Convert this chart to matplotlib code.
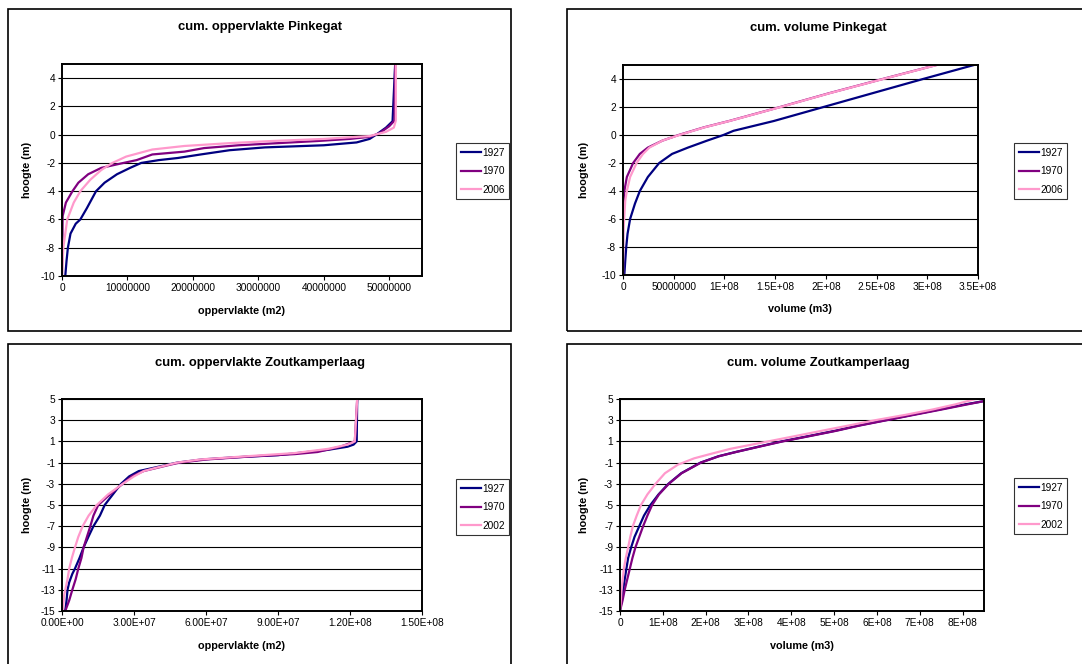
import numpy as np
import matplotlib
matplotlib.use("Agg")
import matplotlib.pyplot as plt
from matplotlib.patches import Rectangle

plt.rcParams['font.family'] = ['Liberation Sans', 'DejaVu Sans']

W, H = 1082, 664

# --- data (x in millions, y = hoogte in m) ---
# cum. oppervlakte Pinkegat
opp_pink_1927_y = [-10, -8.9, -8, -7, -6.3, -6, -5.2, -4.6, -4, -3.4, -2.8, -2.35, -2, -1.8, -1.65, -1.4, -1.1, -0.9, -0.75, -0.55, -0.3, 0, 0.5, 0.95, 5]
opp_pink_1927_x = [0.5, 0.7, 0.9, 1.3, 2.1, 2.8, 3.8, 4.5, 5.2, 6.5, 8.4, 10.4, 12.1, 14.8, 17.7, 21.2, 25.6, 31.0, 40.0, 45.0, 47.0, 48.0, 49.5, 50.5, 50.9]
opp_pink_1970_y = [-10, -5.75, -4.8, -4, -3.4, -2.8, -2.35, -2.05, -1.8, -1.4, -1.2, -0.95, -0.75, -0.6, -0.45, -0.3, -0.15, 0.1, 0.6, 1.0, 5]
opp_pink_1970_x = [0.0, 0.1, 0.6, 1.6, 2.5, 4.0, 6.0, 8.9, 11.4, 13.8, 18.7, 21.7, 27.0, 33.0, 39.0, 44.0, 47.0, 48.5, 50.0, 50.8, 50.9]
opp_pink_2006_y = [-10, -8, -6, -4.8, -4, -3.2, -2.5, -2, -1.55, -1.05, -0.8, -0.6, -0.45, -0.3, -0.1, 0.2, 0.5, 1, 5]
opp_pink_2006_x = [0.0, 0.2, 0.8, 1.8, 2.8, 4.3, 6.0, 7.7, 9.8, 13.8, 18.7, 25.6, 32.0, 40.0, 47.0, 49.5, 50.7, 51.0, 51.0]

# cum. volume Pinkegat
vol_pink_1927_y = [-10, -9, -8, -7.05, -6, -4.9, -4, -3, -2, -1.35, -0.9, -0.4, 0, 0.3, 1, 2, 3, 4, 5]
vol_pink_1927_x = [1.3, 2.2, 3.2, 4.5, 7.0, 11.8, 16.6, 24.5, 35.7, 48.4, 64, 83, 99, 109, 148.7, 197.7, 246.7, 295.8, 346]
vol_pink_1970_y = [-10, -5.65, -4, -3, -2, -1.35, -0.9, -0.4, 0, 0.55, 1, 2, 3, 4, 5]
vol_pink_1970_x = [0, 0.1, 1.3, 3.8, 10, 16.6, 24.5, 38.9, 54.8, 80, 104.6, 155, 204, 256, 309]
vol_pink_2006_y = [-10, -7, -4.7, -4, -3, -2, -1.35, -0.9, -0.4, 0, 0.55, 1, 2, 3, 4, 5]
vol_pink_2006_x = [0, 0.3, 2.2, 3.8, 7.0, 13.4, 19.7, 26, 38.9, 55.5, 80.5, 105, 155.5, 204.5, 256.5, 309.5]

# cum. oppervlakte Zoutkamperlaag
opp_zout_1927_y = [-15, -14, -13, -12.3, -11.5, -11, -10, -9, -8, -7, -6, -5, -4, -3, -2.3, -1.8, -1.5, -1.2, -1, -0.7, -0.5, -0.3, 0, 0.2, 0.5, 0.7, 1, 5]
opp_zout_1927_x = [1.35, 1.9, 2.3, 3.0, 4.3, 5.4, 7.3, 9.0, 11.0, 13.1, 15.8, 17.8, 21.2, 24.6, 28.0, 32.0, 38.0, 44.0, 48.0, 58.5, 72.0, 90.0, 102.0, 110.7, 119.0, 121.5, 122.8, 123.0]
opp_zout_1970_y = [-15, -14, -13, -12, -11, -10, -9, -8, -7, -6, -5, -4.3, -3.5, -3, -2.3, -1.8, -1.5, -1.2, -1, -0.7, -0.4, -0.2, 0, 0.5, 1, 5]
opp_zout_1970_x = [1.35, 3.0, 4.3, 5.7, 6.8, 8.1, 9.0, 10.4, 11.8, 13.1, 15.1, 18.5, 22.6, 25.3, 29.0, 34.0, 39.5, 45.0, 49.0, 60.5, 80.0, 97.0, 106.5, 116.0, 122.0, 123.0]
opp_zout_2002_y = [-15, -13.5, -12, -11, -10, -9, -8, -7, -6, -5, -4, -3, -2.3, -1.8, -1.5, -1, -0.7, -0.4, -0.1, 0.3, 0.7, 1, 5]
opp_zout_2002_x = [0.3, 0.9, 2.3, 3.0, 4.1, 5.4, 6.8, 8.6, 11.1, 14.5, 19.2, 25.3, 30.0, 34.0, 39.0, 48.0, 57.7, 77.0, 97.0, 111.0, 119.0, 122.0, 123.0]

# cum. volume Zoutkamperlaag
vol_zout_1927_y = [-15, -14, -13, -12, -11, -10, -9, -8, -7, -6, -5, -4, -3, -2, -1, -0.4, 0, 0.5, 1, 1.5, 2, 2.5, 3, 3.5, 4, 4.5, 4.8]
vol_zout_1927_x = [0, 3.8, 7.5, 11, 15, 19, 26, 34, 45, 56, 71, 90, 113, 143, 188, 230, 270, 323, 377, 440, 502, 557, 620, 682, 745, 807, 850]
vol_zout_1970_y = [-15, -14, -13, -12, -11, -10, -9, -8, -7, -6, -5, -4, -3, -2, -1, -0.4, 0, 0.5, 1, 1.5, 2, 2.5, 3, 3.5, 4, 4.5, 4.8]
vol_zout_1970_x = [0, 6, 11, 17, 23, 29, 36, 45, 54, 64, 75, 91, 114, 144, 189, 231, 271, 325, 380, 443, 505, 560, 623, 686, 750, 812, 850]
vol_zout_2002_y = [-15, -13, -11, -10, -9, -8, -7, -6, -5, -4, -3, -2, -1.2, -0.6, -0.2, 0.3, 1, 1.5, 2, 2.5, 3, 3.5, 4, 4.5, 5]
vol_zout_2002_x = [0, 3.8, 9, 13.5, 19, 24, 30, 39, 49, 64, 83, 105, 135, 173, 210, 258, 346, 409, 471, 534, 596, 666, 729, 784, 830]

colors = {"1927": "#000080", "1970": "#800080", "2006": "#ff99cc", "2002": "#ff99cc"}


def fx(px):
    return px / W


def fy(py):
    return 1 - py / H


fig = plt.figure(figsize=(W / 100, H / 100), dpi=100)

# outer chart boxes
for (l, t, r, b) in [(8, 9, 511, 331), (567, 9, 1090, 331), (8, 344, 511, 672), (567, 344, 1090, 672)]:
    fig.patches.append(Rectangle((fx(l), fy(b)), fx(r - l), (b - t) / H, transform=fig.transFigure,
                                 fill=False, edgecolor="black", linewidth=1.2, clip_on=False))


def panel(box, title, title_xy, xlabel, xlabel_xy, ylabel_xy, series, xlim, xticks, xticklabels,
          ylim, yticks, legend_xy):
    l, t, r, b = box
    ax = fig.add_axes([fx(l), fy(b), fx(r - l), (b - t) / H])
    for name, xs, ys in series:
        ax.plot(np.array(xs) * 1e6, ys, color=colors[name], linewidth=1.6, label=name)
    ax.set_xlim(*xlim)
    ax.set_ylim(*ylim)
    ax.set_xticks(xticks)
    ax.set_xticklabels(xticklabels)
    ax.set_yticks(yticks)
    ax.set_yticklabels([str(v) for v in yticks])
    ax.grid(axis="y", color="black", linewidth=0.8)
    ax.set_axisbelow(True)
    ax.tick_params(labelsize=7.3, length=3, width=0.8, pad=2)
    for s in ax.spines.values():
        s.set_linewidth(1.4)
    fig.text(fx(title_xy[0]), fy(title_xy[1]), title, ha="center", va="center", fontsize=9.4, fontweight="bold")
    fig.text(fx(xlabel_xy[0]), fy(xlabel_xy[1]), xlabel, ha="center", va="center", fontsize=7.8, fontweight="bold")
    fig.text(fx(ylabel_xy[0]), fy(ylabel_xy[1]), "hoogte (m)", ha="center", va="center", fontsize=7.8,
             fontweight="bold", rotation=90)
    leg = ax.legend(loc="upper left", bbox_to_anchor=(fx(legend_xy[0]), fy(legend_xy[1])),
                    bbox_transform=fig.transFigure, fontsize=7.3, frameon=True, fancybox=False,
                    handlelength=2.0, handletextpad=0.15, borderpad=0.45, labelspacing=0.85,
                    borderaxespad=0)
    leg.get_frame().set_edgecolor("black")
    leg.get_frame().set_linewidth(0.8)
    return ax


panel((62, 64, 422, 276), "cum. oppervlakte Pinkegat", (260, 27), "oppervlakte (m2)", (242, 311), (27, 170),
      [("1927", opp_pink_1927_x, opp_pink_1927_y), ("1970", opp_pink_1970_x, opp_pink_1970_y),
       ("2006", opp_pink_2006_x, opp_pink_2006_y)],
      (0, 5.5e7), [0, 1e7, 2e7, 3e7, 4e7, 5e7],
      ["0", "10000000", "20000000", "30000000", "40000000", "50000000"],
      (-10, 5), list(range(-10, 5, 2)), (456, 143))

panel((623, 65, 978, 275), "cum. volume Pinkegat", (818, 28), "volume (m3)", (800, 309), (584, 170),
      [("1927", vol_pink_1927_x, vol_pink_1927_y), ("1970", vol_pink_1970_x, vol_pink_1970_y),
       ("2006", vol_pink_2006_x, vol_pink_2006_y)],
      (0, 3.5e8), [0, 5e7, 1e8, 1.5e8, 2e8, 2.5e8, 3e8, 3.5e8],
      ["0", "50000000", "1E+08", "1.5E+08", "2E+08", "2.5E+08", "3E+08", "3.5E+08"],
      (-10, 5), list(range(-10, 5, 2)), (1014, 143))

panel((62, 399, 422, 611), "cum. oppervlakte Zoutkamperlaag", (260, 363), "oppervlakte (m2)", (242, 646), (27, 505),
      [("1927", opp_zout_1927_x, opp_zout_1927_y), ("1970", opp_zout_1970_x, opp_zout_1970_y),
       ("2002", opp_zout_2002_x, opp_zout_2002_y)],
      (0, 1.5e8), [0, 3e7, 6e7, 9e7, 1.2e8, 1.5e8],
      ["0.00E+00", "3.00E+07", "6.00E+07", "9.00E+07", "1.20E+08", "1.50E+08"],
      (-15, 5), list(range(-15, 6, 2)), (456, 479))

panel((620, 399, 984, 611), "cum. volume Zoutkamperlaag", (818, 363), "volume (m3)", (802, 646), (584, 505),
      [("1927", vol_zout_1927_x, vol_zout_1927_y), ("1970", vol_zout_1970_x, vol_zout_1970_y),
       ("2002", vol_zout_2002_x, vol_zout_2002_y)],
      (0, 8.5e8), [0, 1e8, 2e8, 3e8, 4e8, 5e8, 6e8, 7e8, 8e8],
      ["0", "1E+08", "2E+08", "3E+08", "4E+08", "5E+08", "6E+08", "7E+08", "8E+08"],
      (-15, 5), list(range(-15, 6, 2)), (1014, 478))

fig.savefig("out.png", dpi=100)
